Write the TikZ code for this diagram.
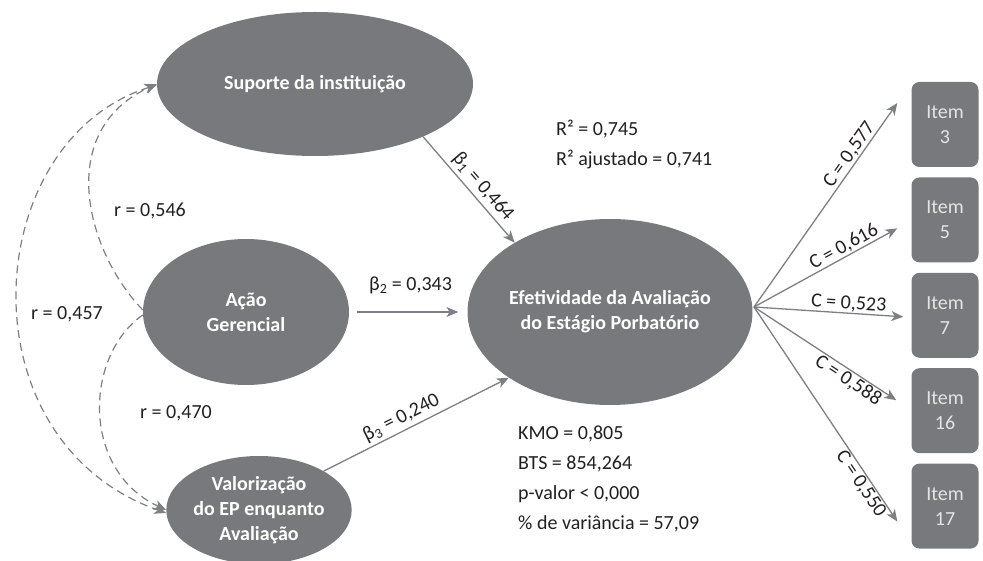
\documentclass[tikz,border=0pt]{standalone}
\usepackage{fontspec}
\setmainfont{Carlito}
\usetikzlibrary{arrows.meta, positioning, shapes.geometric}
\definecolor{fillgray}{RGB}{119,121,124}
\definecolor{linegray}{RGB}{125,127,130}
\definecolor{itemtext}{RGB}{228,228,228}
\definecolor{labeltext}{RGB}{35,31,32}

\begin{document}
\begin{tikzpicture}[x=1pt, y=1pt, font=\fontsize{20}{25}\selectfont, text=labeltext,
    construct/.style={draw=none, fill=fillgray, ellipse, inner sep=0pt, text=white,
        font=\fontsize{20}{25}\selectfont\bfseries, align=center},
    itembox/.style={fill=fillgray, rounded corners=8pt, minimum width=67pt, minimum height=85pt,
        inner sep=0pt, text=itemtext, align=center},
    effect/.style={draw=linegray, line width=1.3pt, -{Stealth[length=12pt, width=10pt, inset=3.5pt]}},
    corr/.style={draw=linegray, line width=1.2pt, dash pattern=on 8pt off 5pt,
        -{Stealth[length=12pt, width=10pt, inset=3.5pt]}}]
        \useasboundingbox (0,0) rectangle (983,-561);
        % constructs
        \node[construct, minimum width=316pt, minimum height=144pt] (sup) at (315,-84) {Suporte da instituição};
        \node[construct, minimum width=206pt, minimum height=146pt] (ag) at (246,-312) {Ação\\Gerencial};
        \node[construct, minimum width=164pt, minimum height=108pt] (val) at (259,-510) {Valorização\\do EP enquanto\\Avaliação};
        \node[construct, minimum width=278pt, minimum height=186pt] (ef) at (610,-312) {Efetividade da Avaliação\\do Estágio Porbatório};
        % items
        \node[itembox] (i3) at (945,-124.5) {Item\\3};
        \node[itembox, below=10pt of i3] (i5) {Item\\5};
        \node[itembox, below=10pt of i5] (i7) {Item\\7};
        \node[itembox, below=10pt of i7] (i16) {Item\\16};
        \node[itembox, below=10pt of i16] (i17) {Item\\17};
        % structural paths
        \draw[effect] (sup.-26) -- node[sloped, above, pos=0.55] {β\textsubscript{1} = 0,464} (ef.144);
        \draw[effect, shorten <=8pt, shorten >=9pt] (ag.east) -- node[above=14pt, pos=0.52] {β\textsubscript{2} = 0,343} (ef.west);
        \draw[effect] (val.31) -- node[sloped, above, pos=0.45] {β\textsubscript{3} = 0,240} (ef.213);
        % loadings
        \coordinate (fan) at (754,-307);
        \foreach \to/\dx/\dy/\lab/\where/\side in
        {i3/-14/21.5/{0,577}/0.72/above, i5/-14/-8.5/{0,616}/0.66/above, i7/-8/-1.5/{0,523}/0.63/above,
         i16/-15/10.5/{0,588}/0.7/below, i17/-14/-15.5/{0,550}/0.8/below}
        \draw[effect] (fan) -- node[sloped, \side, pos=\where, inner sep=1pt] {C = \lab} ([xshift=\dx pt, yshift=\dy pt]\to.west);
        % correlations
        \draw[corr] ([yshift=2pt]ag.west) .. controls (85,-250) and (55,-130) .. (sup.west);
        \draw[corr] ([yshift=-3pt]ag.west) .. controls (85,-355) and (80,-470) .. (val.west);
        \draw[corr, {Stealth[length=12pt, width=10pt, inset=3.5pt]}-{Stealth[length=12pt, width=10pt, inset=3.5pt]}]
            ([yshift=-1pt]sup.west) .. controls (-20,-140) and (-40,-440) .. ([yshift=-3pt]val.west);
        \node (r546) at (150,-211) {r = 0,546};
        \node (r457) at (67,-314) {r = 0,457};
        \node (r470) at (176,-413) {r = 0,470};
        % fit statistics
        \node[align=left, anchor=north west, inner sep=0pt, font=\fontsize{20}{30}\selectfont] (rsq) at (556,-120) {R² = 0,745\\R² ajustado = 0,741};
        \node[align=left, anchor=north west, inner sep=0pt, font=\fontsize{20}{30}\selectfont] (kmo) at (518,-426) {KMO = 0,805\\BTS = 854,264\\p-valor < 0,000\\\% de variância = 57,09};
\end{tikzpicture}
\end{document}
